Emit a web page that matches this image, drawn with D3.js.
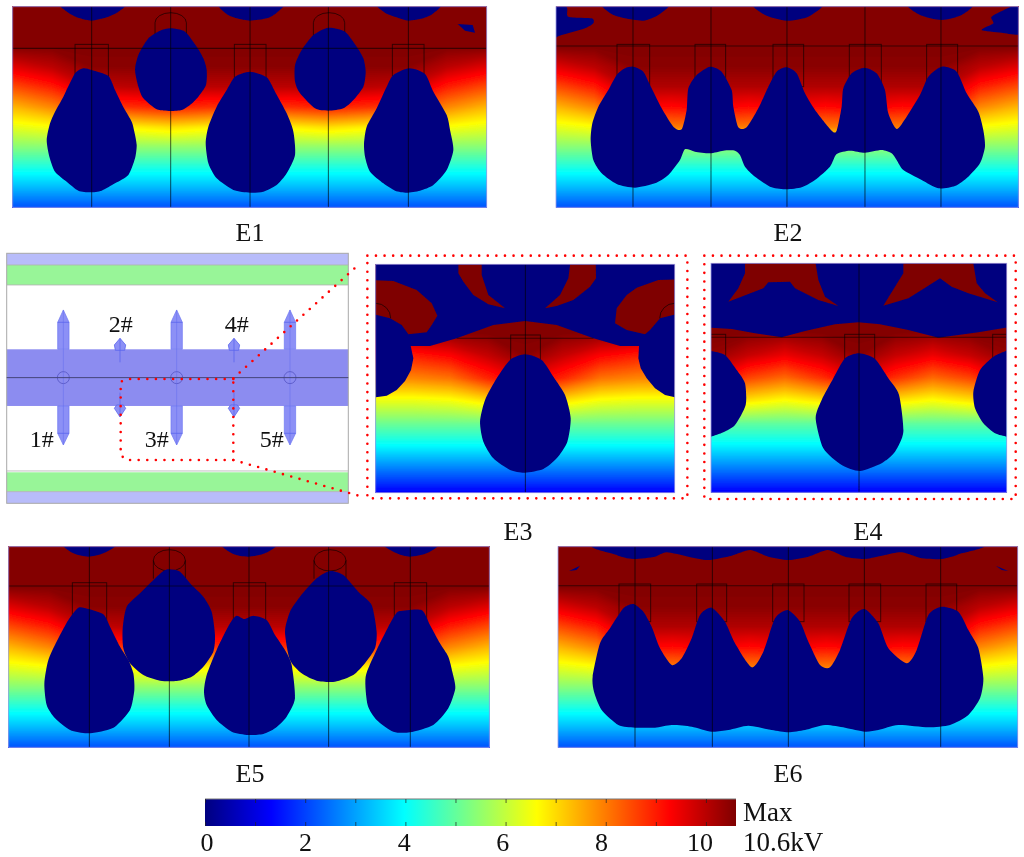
<!DOCTYPE html>
<meta charset="utf-8">
<style>
body { margin: 0; background: #fff; }
svg { display: block; }
text { font-family: "Liberation Serif", serif; fill: #111; }
</style>
<svg width="1024" height="857"></svg>
<script src="https://d3js.org/d3.v7.min.js"></script>
<script>

// colour bar, kV
var barMax = 10.6;
var barStops = [0, 1.325, 3.975, 6.625, 9.275, 10.6];
var barColors = ["#00007f", "#0000ff", "#00ffff", "#ffff00", "#ff0000", "#7f0000"];
var barTicks = [0, 1, 2, 3, 4, 5, 6, 7, 8, 9, 10];
var barLabels = [0, 2, 4, 6, 8, 10];

// potential, rows go top to bottom
var fieldOpen = [
  [10.6,10.6,10.6,10.6,10.6,10.6,10.6,10.6,10.6,10.6,10.6,10.6,10.6],
  [10.6,10.6,10.6,10.6,10.6,10.6,10.6,10.6,10.6,10.6,10.6,10.6,10.6],
  [10.6,10.6,10.6,10.6,10.6,10.6,10.6,10.6,10.6,10.6,10.6,10.6,10.6],
  [9.6,10.0,10.5,10.5,10.5,10.5,10.5,10.5,10.5,10.5,10.5,10.0,9.6],
  [8.5,9.0,9.9,10.0,10.1,10.0,10.0,10.0,10.1,10.0,9.9,9.0,8.5],
  [7.4,7.9,8.7,8.8,9.0,8.8,8.9,8.8,9.0,8.8,8.7,7.9,7.4],
  [6.4,6.6,6.8,6.8,7.0,6.8,7.0,6.8,7.0,6.8,6.8,6.6,6.4],
  [5.4,5.4,5.5,5.5,5.5,5.5,5.5,5.5,5.5,5.5,5.5,5.4,5.4],
  [4.3,4.3,4.3,4.3,4.3,4.3,4.3,4.3,4.3,4.3,4.3,4.3,4.3],
  [3.3,3.3,3.3,3.3,3.3,3.3,3.3,3.3,3.3,3.3,3.3,3.3,3.3],
  [2.2,2.2,2.2,2.2,2.2,2.2,2.2,2.2,2.2,2.2,2.2,2.2,2.2]
];
var fieldWells = [
  [10.6,10.6,10.6,10.6,10.6,10.6,10.6,10.6,10.6,10.6,10.6,10.6,10.6],
  [10.6,10.6,10.6,10.6,10.6,10.6,10.6,10.6,10.6,10.6,10.6,10.6,10.6],
  [10.6,10.6,10.6,10.6,10.6,10.6,10.6,10.6,10.6,10.6,10.6,10.6,10.6],
  [9.6,10.0,10.5,10.5,10.5,10.5,10.5,10.5,10.5,10.5,10.5,10.0,9.6],
  [8.5,9.0,10.1,10.1,10.1,10.1,10.1,10.1,10.1,10.1,10.1,9.0,8.5],
  [7.4,7.9,9.3,9.2,9.4,9.2,9.4,9.2,9.4,9.2,9.3,7.9,7.4],
  [6.4,6.6,8.0,8.0,8.0,8.0,8.0,8.0,8.0,8.0,8.0,6.6,6.4],
  [5.4,5.4,5.5,5.5,5.5,5.5,5.5,5.5,5.5,5.5,5.5,5.4,5.4],
  [4.3,4.3,4.3,4.3,4.3,4.3,4.3,4.3,4.3,4.3,4.3,4.3,4.3],
  [3.3,3.3,3.3,3.3,3.3,3.3,3.3,3.3,3.3,3.3,3.3,3.3,3.3],
  [2.2,2.2,2.2,2.2,2.2,2.2,2.2,2.2,2.2,2.2,2.2,2.2,2.2]
];
var fieldE3 = [
  [10.6,10.6,10.6,10.6,10.6,10.6,10.6,10.6,10.6],
  [10.6,10.6,10.6,10.6,10.6,10.6,10.6,10.6,10.6],
  [10.6,10.6,10.6,10.6,10.6,10.6,10.6,10.6,10.6],
  [10.4,10.4,10.5,10.6,10.6,10.6,10.5,10.4,10.4],
  [9.0,9.0,9.3,9.9,10.5,9.9,9.3,9.0,9.0],
  [7.9,7.9,8.1,8.9,9.6,8.9,8.1,7.9,7.9],
  [6.4,6.4,6.5,6.9,7.2,6.9,6.5,6.4,6.4],
  [5.1,5.1,5.1,5.1,5.2,5.1,5.1,5.1,5.1],
  [3.9,3.9,3.9,3.9,3.9,3.9,3.9,3.9,3.9],
  [2.6,2.6,2.6,2.6,2.6,2.6,2.6,2.6,2.6],
  [1.3,1.3,1.3,1.3,1.3,1.3,1.3,1.3,1.3]
];
var fieldE4 = [
  [10.6,10.6,10.6,10.6,10.6,10.6,10.6,10.6,10.6],
  [10.6,10.6,10.6,10.6,10.6,10.6,10.6,10.6,10.6],
  [10.6,10.6,10.6,10.6,10.6,10.6,10.6,10.6,10.6],
  [10.6,10.6,10.5,10.6,10.6,10.6,10.5,10.6,10.6],
  [10.4,9.9,9.5,9.9,10.5,9.9,9.5,9.9,10.4],
  [9.5,8.6,8.2,8.8,9.6,8.8,8.2,8.6,9.5],
  [7.2,6.9,6.6,6.9,7.2,6.9,6.6,6.9,7.2],
  [5.0,5.0,5.0,5.0,5.1,5.0,5.0,5.0,5.0],
  [3.85,3.85,3.85,3.85,3.85,3.85,3.85,3.85,3.85],
  [2.6,2.6,2.6,2.6,2.6,2.6,2.6,2.6,2.6],
  [1.3,1.3,1.3,1.3,1.3,1.3,1.3,1.3,1.3]
];

// zero-field regions, outlines in model units of each panel
var e1Navy = [
  [[250,205],[275,210],[325,228],[345,270],[372,325],[395,365],[403,395],[410,435],[405,475],[385,525],[345,550],[305,572],[270,577],[235,572],[200,545],[165,515],[148,470],[140,420],[150,370],[165,335],[190,290],[225,220]],
  [[512,85],[555,95],[590,140],[610,175],[620,210],[618,255],[595,290],[570,315],[545,330],[510,333],[470,328],[430,295],[415,260],[405,210],[415,165],[445,115],[480,92]],
  [[750,215],[800,232],[825,275],[860,340],[880,395],[885,465],[860,520],[830,555],[790,575],[750,578],[700,570],[650,535],[625,490],[617,430],[625,380],[650,320],[680,270],[705,230]],
  [[985,83],[1035,95],[1070,140],[1090,175],[1097,215],[1090,260],[1060,300],[1030,325],[985,332],[945,325],[900,280],[885,245],[885,195],[905,150],[940,105]],
  [[1228,205],[1275,222],[1300,275],[1340,345],[1350,390],[1360,450],[1340,510],[1300,555],[1260,572],[1220,578],[1185,572],[1150,550],[1110,515],[1095,470],[1092,430],[1100,380],[1130,325],[1160,260],[1180,225]],
  [[185,10],[205,38],[240,55],[275,62],[320,52],[355,35],[372,10]],
  [[660,10],[680,42],[710,55],[750,62],[800,55],[830,38],[845,10]],
  [[1135,10],[1155,38],[1190,52],[1225,62],[1270,55],[1300,40],[1318,10]],
  [[1373,72],[1418,75],[1425,98],[1395,92]]
];
var e2Navy = [
  [[240,205],[265,200],[295,215],[320,265],[350,325],[385,380],[410,388],[425,330],[430,265],[455,225],[495,200],[530,215],[560,270],[565,320],[580,382],[605,382],[640,325],[670,260],[695,215],[725,202],[755,220],[780,280],[810,330],[860,392],[875,392],[890,320],[895,265],[920,220],[958,203],[995,220],[1020,270],[1030,340],[1055,387],[1085,350],[1125,285],[1150,230],[1190,200],[1235,215],[1265,280],[1300,335],[1315,390],[1320,440],[1305,490],[1270,530],[1230,558],[1180,565],[1130,540],[1075,510],[1055,480],[1040,460],[1010,450],[960,458],[915,452],[875,462],[855,500],[810,540],[770,562],[725,568],[680,562],[630,530],[600,500],[585,465],[570,452],[535,452],[495,460],[450,455],[420,448],[405,480],[370,525],[330,550],[270,563],[215,552],[170,520],[145,480],[137,420],[142,370],[160,320],[190,270],[215,225]],
  [[175,10],[200,42],[240,55],[295,62],[340,45],[368,10]],
  [[628,10],[660,45],[725,62],[790,50],[830,10]],
  [[1090,10],[1125,45],[1190,60],[1250,45],[1280,10]],
  [[20,10],[65,22],[70,50],[140,55],[145,70],[120,85],[50,105],[20,110]],
  [[1435,10],[1395,22],[1340,50],[1345,70],[1310,90],[1370,98],[1435,100]]
];
var e5Navy = [
  [[235,218],[265,222],[310,238],[330,275],[360,335],[385,375],[400,415],[403,465],[390,525],[345,575],[300,590],[260,595],[210,585],[165,550],[140,510],[133,445],[145,375],[175,310],[205,255]],
  [[508,103],[540,110],[575,150],[610,185],[635,230],[645,300],[640,350],[610,395],[575,425],[530,438],[480,437],[430,420],[390,385],[370,340],[368,280],[380,215],[420,175],[460,135],[490,108]],
  [[710,242],[733,252],[760,242],[800,255],[825,300],[855,345],[875,390],[885,490],[860,545],[825,580],[790,597],[745,600],[695,590],[650,555],[620,510],[612,470],[620,420],[650,345],[690,265]],
  [[990,108],[1030,120],[1075,170],[1115,210],[1130,290],[1125,340],[1095,385],[1060,420],[1005,440],[950,437],[905,415],[870,375],[855,290],[870,230],[900,185],[950,130]],
  [[1200,228],[1265,225],[1290,270],[1320,325],[1345,365],[1357,410],[1366,460],[1345,520],[1300,570],[1230,592],[1180,590],[1130,555],[1103,510],[1097,425],[1130,345],[1165,275],[1185,240]],
  [[190,25],[220,55],[265,65],[310,55],[350,25]],
  [[665,25],[700,57],[745,65],[795,55],[830,25]],
  [[1150,25],[1190,55],[1230,65],[1280,55],[1315,25]]
];
var e6Navy = [
  [[265,207],[295,230],[320,275],[345,340],[380,390],[410,370],[440,310],[465,240],[500,218],[540,260],[570,325],[620,397],[655,350],[690,250],[728,225],[765,260],[790,320],[825,390],[855,397],[885,345],[920,250],[958,222],[1000,265],[1030,340],[1085,385],[1115,345],[1150,240],[1190,215],[1240,230],[1270,285],[1300,340],[1315,430],[1305,490],[1270,540],[1215,570],[1150,577],[1060,570],[1000,585],[960,590],[900,578],[840,570],[780,585],[730,592],[680,585],[610,572],[550,585],[500,590],[440,575],[380,570],[330,578],[270,578],[220,570],[170,525],[147,470],[143,425],[165,325],[195,280],[235,220]],
  [[190,25],[215,60],[265,72],[330,65],[365,52],[430,65],[490,75],[560,62],[615,45],[670,65],[730,75],[790,65],[848,45],[900,65],[960,72],[1020,60],[1070,52],[1130,70],[1190,72],[1240,58],[1270,25]],
  [[72,108],[105,92],[95,105]],
  [[1352,92],[1390,108],[1370,105]]
];
var e3Sheet = [[30,40],[960,40],[960,457],[945,457],[915,450],[885,430],[860,400],[842,370],[835,340],[837,303],[780,303],[700,280],[590,240],[495,228],[400,240],[290,280],[210,303],[152,303],[160,340],[153,375],[135,408],[110,435],[80,452],[47,457],[30,457]];
var e3Navy = [
  [[495,328],[545,345],[580,395],[615,450],[632,520],[622,590],[590,640],[550,672],[495,683],[450,675],[400,640],[370,590],[360,530],[375,465],[410,400],[450,345]]
];
var e3Red = [
  [[30,105],[100,108],[170,135],[215,175],[232,212],[215,240],[200,262],[145,268],[125,240],[90,220],[30,205]],
  [[960,103],[895,105],[830,128],[800,150],[770,190],[765,235],[800,255],[855,268],[870,255],[900,220],[960,205]],
  [[295,45],[365,45],[365,90],[385,150],[435,190],[385,178],[340,150],[310,110],[295,85]],
  [[632,45],[707,45],[708,100],[690,125],[640,165],[590,183],[555,190],[600,150],[625,100]]
];
var e4Sheet = [[30,40],[950,40],[950,245],[850,262],[730,278],[640,255],[555,238],[490,232],[420,238],[330,258],[260,277],[180,265],[110,252],[30,247]];
var e4Navy = [
  [[30,318],[48,318],[90,330],[125,375],[150,415],[152,480],[120,540],[85,562],[48,575],[30,575]],
  [[950,317],[935,317],[895,335],[855,375],[835,440],[840,490],[865,535],[900,565],[935,575],[950,575]],
  [[492,325],[540,342],[580,400],[612,450],[625,560],[600,620],[560,655],[495,678],[440,660],[385,610],[362,520],[380,465],[415,400],[450,340]]
];
var e4Red = [
  [[150,45],[360,45],[370,105],[390,155],[430,183],[370,165],[300,130],[285,110],[220,112],[205,130],[100,170],[130,130],[150,85]],
  [[625,45],[833,45],[845,115],[870,145],[908,172],[820,145],[770,125],[735,100],[695,125],[640,160],[565,182],[600,125],[625,85]]
];

// electrode axes and shields, same model units
var e1Axes = [275, 512, 750, 985, 1225];
var e2Axes = [264, 498, 726, 960, 1188];
var e3Axes = [496];
var e4Axes = [492];
var e5Axes = [268, 508, 747, 986, 1231];
var e6Axes = [270, 502, 730, 958, 1187];
var e1Shields = [[225,325],[703,798],[1177,1272]];
var e2Shields = [[216,314],[450,542],[684,776],[913,1009],[1145,1238]];
var e3Shields = [[452,541]];
var e4Shields = [[20,92],[449,539],[893,950]];
var e5Shields = [[217,320],[700,797],[1183,1280]];
var e6Shields = [[222,317],[455,545],[683,777],[912,1007],[1143,1235]];
var e1Rings = [512, 987];
var e5Rings = [508, 990];
var e3Rings = [47, 944];

// schematic
var schemeLong = [190, 530, 870];
var schemeShort = [360, 702];
var schemeLabels = ["1#", "2#", "3#", "4#", "5#"];
var schemeLabelX = [125, 362, 470, 710, 815];
var schemeLabelY = [605, 262, 605, 262, 605];
var panelNames = ["E1", "E2", "E3", "E4", "E5", "E6"];

var svg = d3.select("svg");
var defs = svg.append("defs");
defs.append("filter").attr("id", "soft").append("feGaussianBlur").attr("stdDeviation", 0.45);

var color = d3.scaleLinear().domain(barStops).range(barColors).clamp(true);
var levels = d3.range(0, barMax + 0.05, 0.05);

var panels = [
  {box: [12.7, 6.7, 486.7, 207.3], dom: [38, 20, 1460, 622], field: fieldOpen, line: 145, top: 133, low: 260, navy: e1Navy, sheet: null, red: [], axes: e1Axes, shields: e1Shields, rings: e1Rings, ringY: 68, ringRx: 47, ringRy: 30, legs: 38, fullRing: false, ringsOver: false},
  {box: [556, 6.7, 1018.3, 207.3], dom: [33, 20, 1420, 622], field: fieldWells, line: 138, top: 133, low: 260, navy: e2Navy, sheet: null, red: [], axes: e2Axes, shields: e2Shields, rings: []},
  {box: [375.7, 264.3, 674.7, 492.7], dom: [47, 58, 944, 743], field: fieldE3, line: 280, lineFrom: 290, lineTo: 700, top: 270, low: 345, navy: e3Navy, sheet: e3Sheet, red: e3Red, axes: e3Axes, shields: e3Shields, rings: e3Rings, ringY: 220, ringRx: 45, ringRy: 45, legs: 0, fullRing: false, ringsOver: true},
  {box: [711, 263.3, 1006.7, 492.3], dom: [48, 55, 935, 742], field: fieldE4, line: 277, top: 268, low: 345, navy: e4Navy, sheet: e4Sheet, red: e4Red, axes: e4Axes, shields: e4Shields, rings: []},
  {box: [8.7, 546.7, 489.3, 747.3], dom: [26, 35, 1468, 637], field: fieldOpen, line: 153, top: 143, low: 260, navy: e5Navy, sheet: null, red: [], axes: e5Axes, shields: e5Shields, rings: e5Rings, ringY: 76, ringRx: 48, ringRy: 32, legs: 55, fullRing: true, ringsOver: false},
  {box: [558, 546.7, 1017.7, 747.3], dom: [39, 35, 1418, 637], field: fieldWells, line: 152, top: 147, low: 260, navy: e6Navy, sheet: null, red: [], axes: e6Axes, shields: e6Shields, rings: []}
];

var layer = svg.append("g").attr("filter", "url(#soft)");

panels.forEach(function(p, i) {
  var x = d3.scaleLinear().domain([p.dom[0], p.dom[2]]).range([p.box[0], p.box[2]]);
  var y = d3.scaleLinear().domain([p.dom[1], p.dom[3]]).range([p.box[1], p.box[3]]);
  p.x = x; p.y = y;
  var clipId = "clip" + i;
  defs.append("clipPath").attr("id", clipId).append("rect")
      .attr("x", p.box[0]).attr("y", p.box[1])
      .attr("width", p.box[2] - p.box[0]).attr("height", p.box[3] - p.box[1]);

  var g = layer.append("g").attr("clip-path", "url(#" + clipId + ")");

  // field bands
  var rows = p.field.length, cols = p.field[0].length;
  var gx = d3.scaleLinear().domain([0.5, cols - 0.5]).range([p.box[0], p.box[2]]);
  var gy = d3.scaleLinear().domain([0.5, rows - 0.5]).range([p.box[1], p.box[3]]);
  var project = d3.geoTransform({point: function(a, b) { this.stream.point(gx(a), gy(b)); }});
  var contours = d3.contours().size([cols, rows]).thresholds(levels);
  g.append("g").selectAll("path")
      .data(contours(p.field.flat()))
    .enter().append("path")
      .attr("d", d3.geoPath(project))
      .attr("fill", function(d) { return color(d.value); });

  var outline = d3.line().x(function(d) { return x(d[0]); }).y(function(d) { return y(d[1]); });
  var blob = d3.line().x(function(d) { return x(d[0]); }).y(function(d) { return y(d[1]); })
      .curve(d3.curveCardinalClosed.tension(0.3));

  function drawRings() {
    p.rings.forEach(function(c) {
      var rx = x(p.dom[0] + p.ringRx) - x(p.dom[0]);
      var ry = y(p.dom[1] + p.ringRy) - y(p.dom[1]);
      var cy = y(p.ringY);
      var legEnd = y(p.ringY + p.legs);
      var d = "M" + (x(c) - rx) + "," + legEnd + "L" + (x(c) - rx) + "," + cy +
          "A" + rx + "," + ry + " 0 0 1 " + (x(c) + rx) + "," + cy +
          "L" + (x(c) + rx) + "," + legEnd;
      if (p.fullRing) d += "M" + (x(c) - rx) + "," + cy + "A" + rx + "," + ry + " 0 0 0 " + (x(c) + rx) + "," + cy;
      g.append("path").attr("d", d).attr("fill", "none")
          .attr("stroke", "#000").attr("stroke-opacity", 0.6);
    });
  }

  // needle shields and rings go under the zero-field regions
  g.selectAll(".shield").data(p.shields).enter().append("rect")
      .attr("class", "shield")
      .attr("x", function(d) { return x(d[0]); })
      .attr("y", y(p.top))
      .attr("width", function(d) { return x(d[1]) - x(d[0]); })
      .attr("height", y(p.low) - y(p.top))
      .attr("fill", "none").attr("stroke", "#000").attr("stroke-opacity", 0.6);

  if (!p.ringsOver) drawRings();

  if (p.sheet) g.append("path").attr("d", outline(p.sheet) + "Z").attr("fill", "#00007f");
  g.append("g").selectAll("path").data(p.navy).enter().append("path")
      .attr("d", function(d) { return d.length > 4 ? blob(d) : outline(d) + "Z"; })
      .attr("fill", "#00007f");
  g.append("g").selectAll("path").data(p.red).enter().append("path")
      .attr("d", function(d) { return outline(d) + "Z"; })
      .attr("fill", "#7f0000");

  if (p.ringsOver) drawRings();

  // ground plane line and needle axes on top
  g.append("line")
      .attr("x1", p.lineFrom ? x(p.lineFrom) : p.box[0]).attr("x2", p.lineTo ? x(p.lineTo) : p.box[2])
      .attr("y1", y(p.line)).attr("y2", y(p.line))
      .attr("stroke", "#000").attr("stroke-opacity", 0.55).attr("stroke-width", 1.1);
  g.selectAll(".axis").data(p.axes).enter().append("line")
      .attr("class", "axis")
      .attr("x1", function(d) { return x(d); }).attr("x2", function(d) { return x(d); })
      .attr("y1", p.box[1]).attr("y2", p.box[3])
      .attr("stroke", "#000").attr("stroke-opacity", 0.65).attr("stroke-width", 1);

  layer.append("rect")
      .attr("x", p.box[0]).attr("y", p.box[1])
      .attr("width", p.box[2] - p.box[0]).attr("height", p.box[3] - p.box[1])
      .attr("fill", "none").attr("stroke", "#9a9ae6").attr("stroke-width", 0.8);
});

// schematic of the valve section
var sx = d3.scaleLinear().domain([20, 1045]).range([6.7, 348.3]);
var sy = d3.scaleLinear().domain([25, 775]).range([253.3, 503.3]);
var s = layer.append("g");
var sline = d3.line().x(function(d) { return sx(d[0]); }).y(function(d) { return sy(d[1]); });

var schemeBands = [[25, 60, "#b8bcfa"], [60, 120, "#98f598"], [313, 483, "#8c8cf0"], [682, 740, "#98f598"], [740, 775, "#b8bcfa"]];
s.selectAll(".band").data(schemeBands).enter().append("rect")
    .attr("class", "band")
    .attr("x", sx(20)).attr("width", sx(1045) - sx(20))
    .attr("y", function(d) { return sy(d[0]); })
    .attr("height", function(d) { return sy(d[1]) - sy(d[0]); })
    .attr("fill", function(d) { return d[2]; });

s.append("rect")
    .attr("x", sx(20)).attr("y", sy(25))
    .attr("width", sx(1045) - sx(20)).attr("height", sy(775) - sy(25))
    .attr("fill", "none").attr("stroke", "#a8a8a8").attr("stroke-width", 1);
[60, 120, 678, 740].forEach(function(v) {
  s.append("line").attr("x1", sx(20)).attr("x2", sx(1045)).attr("y1", sy(v)).attr("y2", sy(v))
      .attr("stroke", "#b0b0b0").attr("stroke-width", 0.8);
});

schemeLong.forEach(function(c) {
  var up = [[c-17,313],[c-17,232],[c,195],[c+17,232],[c+17,313]];
  var down = [[c-17,483],[c-17,565],[c,600],[c+17,565],[c+17,483]];
  [up, down].forEach(function(n) {
    s.append("path").attr("d", sline(n) + "Z").attr("fill", "#8c90f6").attr("stroke", "#6f78f2").attr("stroke-width", 0.7);
  });
  s.append("line").attr("x1", sx(c-17)).attr("x2", sx(c+17)).attr("y1", sy(232)).attr("y2", sy(232)).attr("stroke", "#5a66ee").attr("stroke-width", 0.8);
  s.append("line").attr("x1", sx(c-17)).attr("x2", sx(c+17)).attr("y1", sy(565)).attr("y2", sy(565)).attr("stroke", "#5a66ee").attr("stroke-width", 0.8);
  s.append("line").attr("x1", sx(c)).attr("x2", sx(c)).attr("y1", sy(195)).attr("y2", sy(600)).attr("stroke", "#5a66ee").attr("stroke-width", 0.6).attr("stroke-opacity", 0.7);
  s.append("circle").attr("cx", sx(c)).attr("cy", sy(398)).attr("r", sx(38) - sx(20))
      .attr("fill", "none").attr("stroke", "#5a5ac8").attr("stroke-width", 0.9);
});

schemeShort.forEach(function(c) {
  s.append("path").attr("d", sline([[c-17,300],[c,280],[c+17,300],[c+14,316],[c-14,316]]) + "Z")
      .attr("fill", "#8c90f6").attr("stroke", "#5a66ee").attr("stroke-width", 0.8);
  s.append("path").attr("d", sline([[c-17,490],[c-10,480],[c+10,480],[c+17,490],[c,516]]) + "Z")
      .attr("fill", "#8c90f6").attr("stroke", "#5a66ee").attr("stroke-width", 0.8);
  s.append("line").attr("x1", sx(c)).attr("x2", sx(c)).attr("y1", sy(280)).attr("y2", sy(352)).attr("stroke", "#5a66ee").attr("stroke-width", 0.8);
  s.append("line").attr("x1", sx(c)).attr("x2", sx(c)).attr("y1", sy(443)).attr("y2", sy(516)).attr("stroke", "#5a66ee").attr("stroke-width", 0.8);
});

s.append("line").attr("x1", sx(20)).attr("x2", sx(1045)).attr("y1", sy(398)).attr("y2", sy(398))
    .attr("stroke", "#44447a").attr("stroke-width", 1);

// red dotted callouts
var dots = svg.append("g").attr("fill", "none").attr("stroke", "#f00")
    .attr("stroke-width", 2.6).attr("stroke-linecap", "round").attr("stroke-dasharray", "0 8.6");
dots.append("path").attr("d", sline([[700,402],[385,402],[362,410],[362,630],[378,645],[700,645],[700,402]]));
dots.append("path").attr("d", sline([[700,400],[1075,60]]));
dots.append("path").attr("d", sline([[700,645],[1075,752]]));
var frameE3 = d3.line().x(function(d) { return panels[2].x(d[0]); }).y(function(d) { return panels[2].y(d[1]); });
var frameE4 = d3.line().x(function(d) { return panels[3].x(d[0]); }).y(function(d) { return panels[3].y(d[1]); });
dots.append("path").attr("d", frameE3([[22,32],[982,32],[982,760],[22,760]]) + "Z");
dots.append("path").attr("d", frameE4([[28,32],[962,32],[962,762],[28,762]]) + "Z");

svg.append("g").selectAll("text").data(schemeLabels).enter().append("text")
    .attr("x", function(d, i) { return sx(schemeLabelX[i]); })
    .attr("y", function(d, i) { return sy(schemeLabelY[i]); })
    .attr("text-anchor", "middle").attr("font-size", 24)
    .text(function(d) { return d; });

// panel captions
var captionX = [250, 788, 518, 868, 250, 788];
var captionY = [241, 241, 540, 540, 782, 782];
svg.append("g").selectAll("text").data(panelNames).enter().append("text")
    .attr("x", function(d, i) { return captionX[i]; })
    .attr("y", function(d, i) { return captionY[i]; })
    .attr("text-anchor", "middle").attr("font-size", 26)
    .text(function(d) { return d; });

// colour bar
var cb = d3.scaleLinear().domain([0, barMax]).range([205, 736]);
var cbLabels = d3.scaleLinear().domain([0, 10]).range([207, 700]);
var grad = defs.append("linearGradient").attr("id", "jet");
grad.selectAll("stop").data(barStops).enter().append("stop")
    .attr("offset", function(d) { return d / barMax; })
    .attr("stop-color", function(d, i) { return barColors[i]; });
svg.append("rect").attr("x", cb(0)).attr("y", 799).attr("width", cb(barMax) - cb(0)).attr("height", 27)
    .attr("fill", "url(#jet)");
svg.append("line").attr("x1", cb(0)).attr("x2", cb(barMax)).attr("y1", 799).attr("y2", 799)
    .attr("stroke", "#777").attr("stroke-width", 1);

var axisLow = svg.append("g").attr("transform", "translate(0,826)")
    .call(d3.axisBottom(cb).tickValues(barTicks).tickSize(-4).tickFormat(""));
axisLow.select(".domain").remove();
axisLow.selectAll("line").attr("stroke", "#222").attr("stroke-opacity", 0.7);
var axisHigh = svg.append("g").attr("transform", "translate(0,799)")
    .call(d3.axisTop(cb).tickValues(barTicks).tickSize(-4).tickFormat(""));
axisHigh.select(".domain").remove();
axisHigh.selectAll("line").attr("stroke", "#222").attr("stroke-opacity", 0.7);

svg.append("g").selectAll("text").data(barLabels).enter().append("text")
    .attr("x", function(d) { return cbLabels(d); })
    .attr("y", 851)
    .attr("text-anchor", "middle").attr("font-size", 26)
    .text(function(d) { return d; });

svg.append("text").attr("x", 743).attr("y", 821).attr("font-size", 27).text("Max");
svg.append("text").attr("x", 743).attr("y", 851).attr("font-size", 27).text("10.6kV");

</script>
